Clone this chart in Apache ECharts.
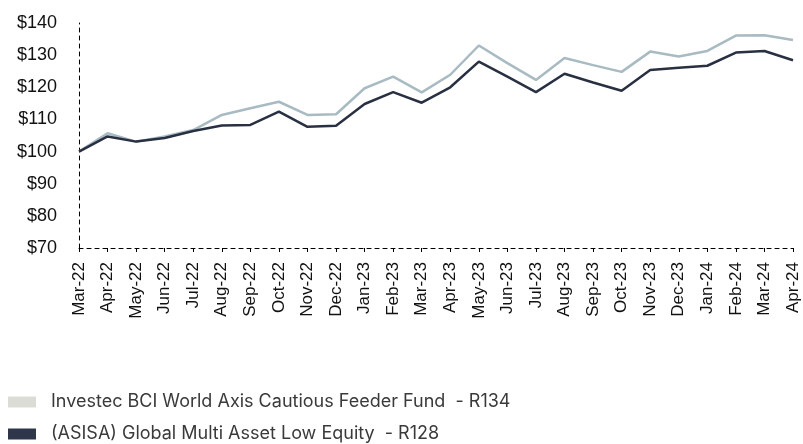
<!DOCTYPE html>
<html>
<head>
<meta charset="utf-8">
<script src="https://cdn.jsdelivr.net/npm/echarts@6/dist/echarts.min.js"></script>
<style>
  html, body { margin: 0; padding: 0; background: #fff; }
  #main { width: 803px; height: 444px; }
</style>
</head>
<body>
<div id="main"></div>
<script>
  var myChart = echarts.init(document.getElementById('main'));

  // months along the x axis
  let months = ['Mar-22','Apr-22','May-22','Jun-22','Jul-22','Aug-22','Sep-22','Oct-22','Nov-22','Dec-22',
    'Jan-23','Feb-23','Mar-23','Apr-23','May-23','Jun-23','Jul-23','Aug-23','Sep-23','Oct-23',
    'Nov-23','Dec-23','Jan-24','Feb-24','Mar-24','Apr-24'];

  let fundName = 'Investec BCI World Axis Cautious Feeder Fund  - R134';
  let peerName = '(ASISA) Global Multi Asset Low Equity  - R128';

  let fundValues = [100, 105.7, 103.1, 104.7, 106.7, 111.4, 113.5, 115.5, 111.4, 111.6,
    119.7, 123.3, 118.4, 123.9, 133.0, 127.5, 122.3, 129.1, 126.9, 124.8,
    131.1, 129.6, 131.3, 136.1, 136.2, 134.7];

  let peerValues = [100, 104.7, 103.1, 104.2, 106.4, 108.1, 108.3, 112.4, 107.7, 108.0,
    114.8, 118.5, 115.2, 120.0, 128.0, 123.3, 118.5, 124.2, 121.5, 118.9,
    125.4, 126.1, 126.7, 130.8, 131.3, 128.4];

  let yTicks = { min: 70, max: 140, step: 10 };

  // one legend per row so they stack on the left
  function legendRow(name, swatch, top) {
    return {
      left: 8,
      top: top,
      padding: 0,
      itemWidth: 28,
      itemHeight: 11,
      icon: 'rect',
      textStyle: { fontFamily: 'Inter', fontSize: 18, lineHeight: 18, color: '#3a3a3a', padding: [0, 0, 0, 10] },
      data: [{ name: name, itemStyle: { color: swatch } }]
    };
  }

  var option = {
    animation: false,
    grid: { left: 79, right: 10, top: 23, bottom: 196, containLabel: false },
    legend: [
      legendRow(fundName, '#dcdcd7', 393),
      legendRow(peerName, '#2e3649', 425)
    ],
    xAxis: {
      type: 'category',
      data: months,
      boundaryGap: false,
      axisLine: { lineStyle: { color: '#000', type: [4, 4], width: 1 } },
      axisTick: { show: true, length: 4, lineStyle: { color: '#000' } },
      axisLabel: {
        rotate: 90, interval: 0, margin: 14,
        fontFamily: 'Liberation Sans', fontSize: 17, color: '#111'
      }
    },
    yAxis: {
      type: 'value',
      min: yTicks.min, max: yTicks.max, interval: yTicks.step,
      axisLine: { show: true, lineStyle: { color: '#000', type: [4, 4], width: 1 } },
      axisTick: { show: false },
      splitLine: { show: false },
      axisLabel: {
        margin: 22,
        fontFamily: 'Liberation Sans', fontSize: 18, color: '#111',
        formatter: function (v) { return '$' + v; }
      }
    },
    series: [
      {
        name: fundName, type: 'line', data: fundValues,
        showSymbol: false, symbol: 'none',
        lineStyle: { color: '#a8bac2', width: 2.5 },
        itemStyle: { color: '#a8bac2' }
      },
      {
        name: peerName, type: 'line', data: peerValues,
        showSymbol: false, symbol: 'none',
        lineStyle: { color: '#283042', width: 2.5 },
        itemStyle: { color: '#283042' }
      }
    ]
  };

  myChart.setOption(option);
</script>
</body>
</html>
